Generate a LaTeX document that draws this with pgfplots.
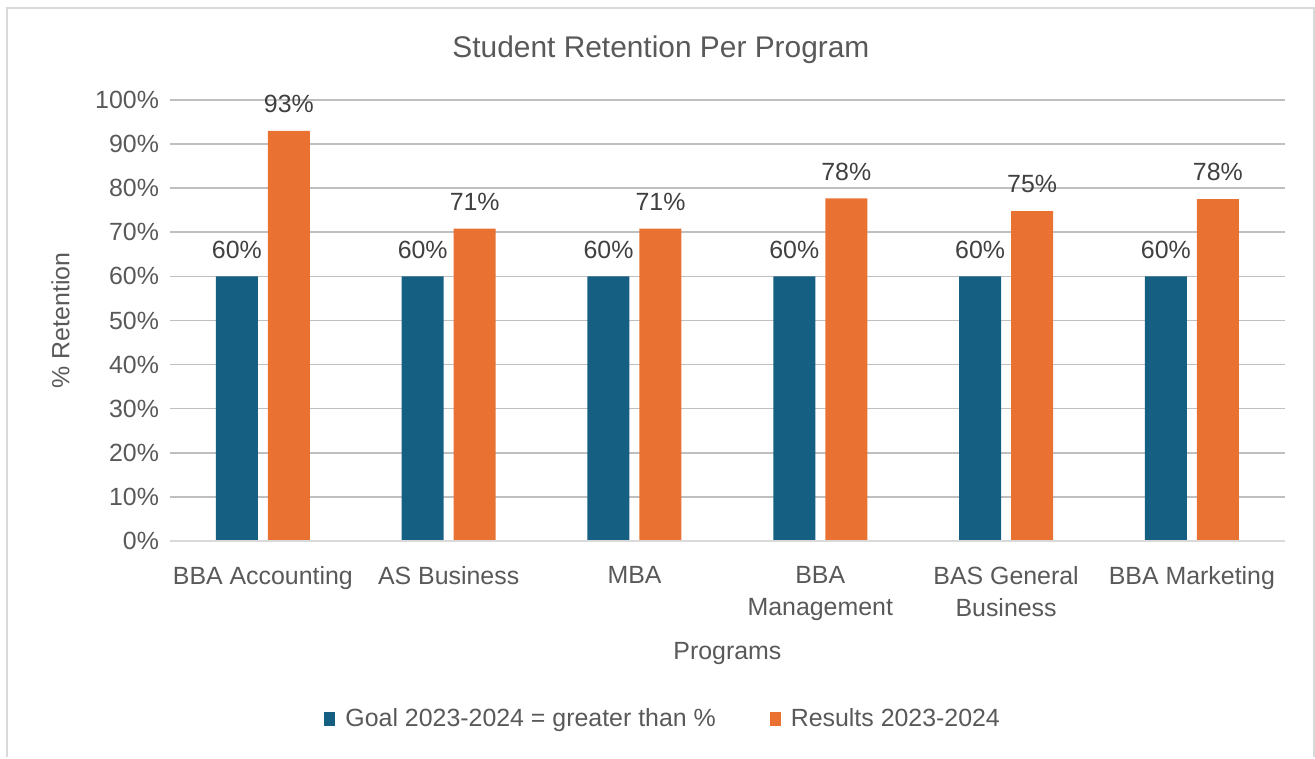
\documentclass[border=0pt]{standalone}
\usepackage{fontspec}
\setmainfont{Liberation Sans}
\usepackage{pgfplots}
\pgfplotsset{compat=1.18}
\definecolor{cblue}{HTML}{156082}
\definecolor{corange}{HTML}{E97132}
\definecolor{tgray}{HTML}{595959}
\definecolor{lgray}{HTML}{404040}
\definecolor{grid}{HTML}{D9D9D9}
\begin{document}
\begin{tikzpicture}
\path (-85bp,-107bp) rectangle (572.5bp,270.5bp);
\draw[grid,line width=1.2bp] (-81.5bp,-108bp) -- (-81.5bp,266.5bp) -- (572bp,266.5bp) -- (572bp,-108bp);
\begin{axis}[
  at={(0,0)}, anchor=south west,
  scale only axis, width=557.5bp, height=220.5bp,
  xmin=-0.5, xmax=5.5, ymin=0, ymax=100,
  ytick={0,10,...,100},
  xtick={0,...,5},
  xticklabels={BBA Accounting, AS Business, MBA, BBA\\Management, BAS General\\Business, BBA Marketing},
  xticklabel style={align=center, font=\fontsize{12.5}{16.5}\selectfont, text=tgray, yshift=-9bp},
  yticklabel={\pgfmathprintnumber{\tick}\%},
  yticklabel style={font=\fontsize{12.5}{15}\selectfont, text=tgray, xshift=-2bp},
  /pgf/number format/assume math mode=true,
  major tick length=0pt,
  axis line style={draw=none},
  xmajorgrids=false, ymajorgrids, grid style={grid, line width=0.8bp},
  ybar, bar width=21bp,
  xlabel={Programs}, xlabel style={font=\fontsize{12.5}{15}\selectfont, text=tgray, yshift=-4bp},
  ylabel={\% Retention}, ylabel style={font=\fontsize{12.5}{15}\selectfont, text=tgray, yshift=6bp},
  title={Student Retention Per Program},
  title style={font=\fontsize{15}{18}\selectfont, text=tgray, at={(rel axis cs:0.4404,1)}, anchor=center, yshift=19bp},
  nodes near coords={\pgfmathprintnumber[fixed,precision=0]{\pgfplotspointmeta}\%},
  nodes near coords style={font=\fontsize{12.5}{15}\selectfont, text=lgray, anchor=south, yshift=5.5bp},
  legend style={at={(rel axis cs:0.446,0)}, anchor=center, yshift=-89bp, draw=none, font=\fontsize{12.5}{15}\selectfont, text=tgray, legend columns=2,
    /tikz/every odd column/.style={column sep=0bp},
    /tikz/every even column/.style={column sep=22bp},
    nodes={inner xsep=5bp}},
  legend image code/.code={\fill[#1] (0bp,-3.5bp) rectangle (5.5bp,3.5bp);},
  clip=false,
]
\addplot[fill=cblue, draw=none, bar shift=-13bp] coordinates {(0,60) (1,60) (2,60) (3,60) (4,60) (5,60)};
\addplot[fill=corange, draw=none, bar shift=13bp] coordinates {(0,93) (1,70.8) (2,70.8) (3,77.7) (4,74.8) (5,77.5)};
\legend{Goal 2023-2024 = greater than \%, Results 2023-2024}
\draw[grid, line width=0.8bp] (rel axis cs:0,0) -- (rel axis cs:1,0);
\end{axis}
\end{tikzpicture}
\end{document}
